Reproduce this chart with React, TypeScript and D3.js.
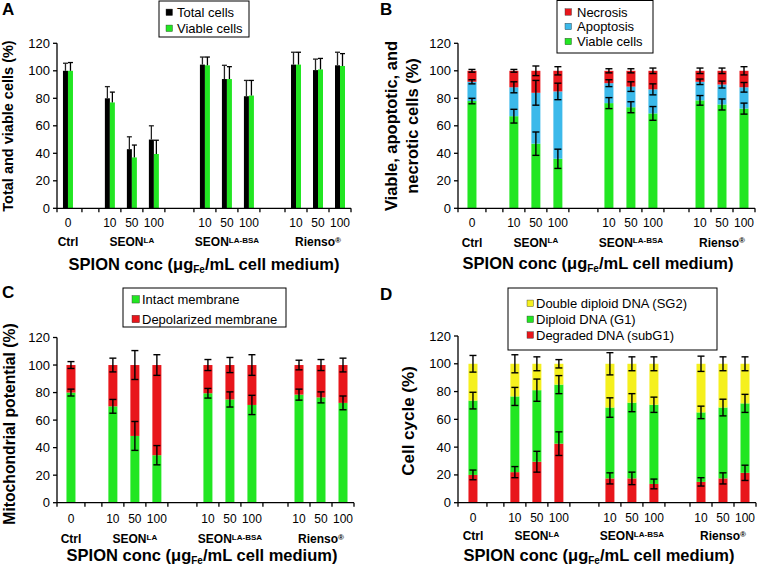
import React from 'react';
import * as d3 from 'd3';

const FONT = 'Liberation Sans, Arial, Helvetica, sans-serif';

// ---------- categories ----------
const groups = [
  { name: 'Ctrl', sup: '', concs: ['0'] },
  { name: 'SEON', sup: 'LA', concs: ['10', '50', '100'] },
  { name: 'SEON', sup: 'LA-BSA', concs: ['10', '50', '100'] },
  { name: 'Rienso', sup: '®', concs: ['10', '50', '100'] },
];
const yTicks = [0, 20, 40, 60, 80, 100, 120];

// ---------- Panel A ----------
const totalCells = [100, 80, 43, 50, 104.5, 94, 81.5, 104.5, 100.5, 104];
const totalCellsErr = [5.5, 8.5, 9, 10, 5.5, 10, 11.5, 9, 8, 9.5];
const viableCellsA = [100, 77, 37, 39.5, 104, 94, 82, 104.5, 101, 103.5];
const viableCellsAErr = [6, 7.5, 9, 10, 6, 9, 11, 9, 8, 9];

// ---------- Panel B (stack bottom -> top) ----------
const viableB = [78, 67, 47, 36, 76.5, 73.5, 69, 78.5, 75.5, 72.5];
const viableBErr = [2, 5, 8.5, 7, 4, 4, 5, 3.5, 4, 4];
const apoptosisB = [14, 21, 37, 49, 14.5, 15, 17.5, 13.5, 14.5, 15.5];
const apoptosisBErr = [1.5, 4, 9, 6, 2.5, 3.5, 4, 2, 2.5, 3.5];
const necrosisB = [8, 12, 16, 15, 9, 11.5, 13.5, 8, 10, 12];
const necrosisBErr = [1, 1, 3.5, 3, 1.5, 1.5, 2, 2, 2, 3];

// ---------- Panel C ----------
const intactC = [80, 70, 48.5, 34.5, 79.5, 75, 71, 78.5, 76.5, 72.5];
const intactCErr = [2.5, 5, 10.5, 7, 3.5, 5.5, 7, 4, 4, 5];
const depolC = [20, 30, 51.5, 65.5, 20.5, 25, 29, 21.5, 23.5, 27.5];
const depolCErr = [2.5, 5, 10.5, 7.5, 4, 5.5, 7.5, 3.5, 4, 5];

// ---------- Panel D ----------
const subG1 = [20, 22, 29.5, 42.5, 17.5, 17.5, 13.5, 15, 17.5, 21.5];
const subG1Err = [3.5, 4, 7.5, 8.5, 4, 4.5, 3.5, 3, 4, 5.5];
const g1 = [53.5, 54.5, 51.5, 42.5, 51, 54.5, 57, 50, 51, 50];
const g1Err = [6, 6.5, 8, 6.5, 7, 6.5, 5.5, 4.5, 6, 6.5];
const sg2 = [26.5, 23.5, 19, 15, 31.5, 28, 29.5, 35, 31.5, 28.5];
const sg2Err = [6, 6.5, 5, 3, 8, 5, 5, 5.5, 5, 5];

// ---------- colours ----------
const GREEN = '#22e622';
const RED = '#e8161b';
const BLUE = '#3cb9ea';
const YELLOW = '#f5f01e';
const BLACK = '#000000';

// ---------- layout of slots ----------
const CTRL_UNITS = 1.27;
const GAP_UNITS = [0.77, 1.32, 1.14];
const AXIS_W = 297;

type Slot = { start: number; end: number; gi: number; conc?: string; bar: boolean };
function buildSlots() {
  const slots: Slot[] = [];
  let u = 0;
  groups.forEach((g, gi) => {
    if (gi > 0) {
      slots.push({ start: u, end: u + GAP_UNITS[gi - 1], gi, bar: false });
      u += GAP_UNITS[gi - 1];
    }
    g.concs.forEach((c) => {
      const w = gi === 0 ? CTRL_UNITS : 1;
      slots.push({ start: u, end: u + w, gi, conc: c, bar: true });
      u += w;
    });
  });
  return { slots, total: u };
}
const { slots, total: TOTAL_UNITS } = buildSlots();
const barSlots = slots.filter((s) => s.bar);

type PanelGeom = { axisX: number; xStart: number; yTop: number; yBottom: number };

function Axes({ g, x, y, tickY, groupY, titleY, titleX }: any) {
  const end = x(TOTAL_UNITS);
  return (
    <g fontFamily={FONT}>
      <line x1={g.axisX} x2={g.axisX} y1={g.yBottom + 4} y2={y(120)} stroke="#000" strokeWidth={1.3} />
      <line x1={g.axisX} x2={end} y1={g.yBottom} y2={g.yBottom} stroke="#000" strokeWidth={1.3} />
      {yTicks.map((t) => (
        <g key={t}>
          <line x1={g.axisX - 4} x2={g.axisX} y1={y(t)} y2={y(t)} stroke="#000" strokeWidth={1.3} />
          <text x={g.axisX - 7} y={y(t)} dy="0.35em" textAnchor="end" fontSize={13}>{t}</text>
        </g>
      ))}
      {slots.map((s, i) => (
        <line key={i} x1={x(s.end)} x2={x(s.end)} y1={g.yBottom} y2={g.yBottom + 4} stroke="#000" strokeWidth={1.3} />
      ))}
      {barSlots.map((s, i) => (
        <text key={i} x={x((s.start + s.end) / 2)} y={tickY} textAnchor="middle" fontSize={12}>{s.conc}</text>
      ))}
      {groups.map((gr, gi) => {
        const gs = barSlots.filter((s) => s.gi === gi);
        const cx = (x(gs[0].start) + x(gs[gs.length - 1].end)) / 2;
        return (
          <text key={gi} x={cx} y={groupY} textAnchor="middle" fontSize={12} fontWeight="bold">
            <tspan>{gr.name}</tspan>
            {gr.sup ? <tspan dy={-3.5} fontSize={8}>{gr.sup}</tspan> : null}
          </text>
        );
      })}
      <text x={titleX} y={titleY} textAnchor="middle" fontSize={16.5} fontWeight="bold">
        <tspan>SPION conc (μg</tspan>
        <tspan dy={3} fontSize={10}>Fe</tspan>
        <tspan dy={-3}>/mL cell medium)</tspan>
      </text>
    </g>
  );
}

function Legend({ x, y, w, h, items, sx, tx, rows, sw }: any) {
  return (
    <g fontFamily={FONT}>
      <rect x={x} y={y} width={w} height={h} fill="#fff" stroke="#000" strokeWidth={1} />
      {items.map((it: any, i: number) => (
        <g key={i}>
          <rect x={sx} y={rows[i] - sw / 2} width={sw} height={sw} fill={it.color} stroke="#333" strokeWidth={0.4} />
          <text x={tx} y={rows[i]} dy="0.36em" fontSize={13}>{it.label}</text>
        </g>
      ))}
    </g>
  );
}

function StackPanel({ g, series, tickY, groupY, titleY, titleX }: any) {
  const x = d3.scaleLinear().domain([0, TOTAL_UNITS]).range([g.xStart, g.xStart + AXIS_W]);
  const y = d3.scaleLinear().domain([0, 120]).range([g.yBottom, g.yTop]);
  const bw = 9;
  return (
    <g>
      {barSlots.map((s, i) => {
        const cx = x((s.start + s.end) / 2);
        let cum = 0;
        const rects: any[] = [];
        const errs: any[] = [];
        series.forEach((se: any, k: number) => {
          const v = se.values[i];
          const top = cum + v;
          rects.push(<rect key={'r' + k} x={cx - bw / 2} y={y(top)} width={bw} height={y(cum) - y(top)} fill={se.color} />);
          const e = se.err[i];
          errs.push(
            <g key={'e' + k} stroke="#000" strokeWidth={1.4}>
              <line x1={cx} x2={cx} y1={y(top - e)} y2={y(top + e)} />
              <line x1={cx - 3.5} x2={cx + 3.5} y1={y(top + e)} y2={y(top + e)} />
              <line x1={cx - 3.5} x2={cx + 3.5} y1={y(top - e)} y2={y(top - e)} />
            </g>
          );
          cum = top;
        });
        return <g key={i}>{rects}{errs}</g>;
      })}
      <Axes g={g} x={x} y={y} tickY={tickY} groupY={groupY} titleY={titleY} titleX={titleX} />
    </g>
  );
}

function PanelA({ g }: { g: PanelGeom }) {
  const x = d3.scaleLinear().domain([0, TOTAL_UNITS]).range([g.xStart, g.xStart + AXIS_W]);
  const y = d3.scaleLinear().domain([0, 120]).range([g.yBottom, g.yTop]);
  const bw = 5;
  return (
    <g>
      {barSlots.map((s, i) => {
        const cx = x((s.start + s.end) / 2);
        const bars = [
          { v: totalCells[i], e: totalCellsErr[i], c: BLACK, x0: cx - bw },
          { v: viableCellsA[i], e: viableCellsAErr[i], c: GREEN, x0: cx },
        ];
        return (
          <g key={i}>
            {bars.map((b, k) => (
              <g key={k}>
                <rect x={b.x0} y={y(b.v)} width={bw} height={y(0) - y(b.v)} fill={b.c} />
                <g stroke={k === 0 ? '#222' : '#000'} strokeWidth={1.3}>
                  <line x1={b.x0 + bw / 2} x2={b.x0 + bw / 2} y1={y(b.v)} y2={y(b.v + b.e)} />
                  <line x1={b.x0 + bw / 2 - 2.5} x2={b.x0 + bw / 2 + 2.5} y1={y(b.v + b.e)} y2={y(b.v + b.e)} />
                </g>
              </g>
            ))}
          </g>
        );
      })}
      <Axes g={g} x={x} y={y} tickY={226.5} groupY={246} titleY={270} titleX={204} />
    </g>
  );
}

export default function App() {
  const gA: PanelGeom = { axisX: 57, xStart: 54, yTop: 43.3, yBottom: 208.3 };
  const gB: PanelGeom = { axisX: 458, xStart: 458, yTop: 43.3, yBottom: 208.3 };
  const gC: PanelGeom = { axisX: 57, xStart: 57, yTop: 337.5, yBottom: 502.7 };
  const gD: PanelGeom = { axisX: 458, xStart: 459, yTop: 336, yBottom: 502.7 };
  return (
    <svg width={759} height={567} style={{ position: 'absolute', left: 0, top: 0, display: 'block', background: '#fff' }} fontFamily={FONT}>
      <rect x={0} y={0} width={759} height={567} fill="#fff" />
      {/* panel letters */}
      <text x={2} y={15} fontSize={17} fontWeight="bold">A</text>
      <text x={380} y={15} fontSize={17} fontWeight="bold">B</text>
      <text x={2} y={298} fontSize={17} fontWeight="bold">C</text>
      <text x={380} y={300} fontSize={17} fontWeight="bold">D</text>

      {/* Panel A */}
      <PanelA g={gA} />
      <Legend x={159} y={1} w={90} h={36} sx={166} tx={177} sw={6.5} rows={[12.3, 28.3]}
        items={[{ label: 'Total cells', color: BLACK }, { label: 'Viable cells', color: GREEN }]} />
      <text transform="translate(13,126) rotate(-90)" textAnchor="middle" fontSize={14.5} fontWeight="bold">Total and viable cells (%)</text>

      {/* Panel B */}
      <StackPanel g={gB} tickY={226.7} groupY={246.5} titleY={268.5} titleX={598}
        series={[
          { values: viableB, err: viableBErr, color: GREEN },
          { values: apoptosisB, err: apoptosisBErr, color: BLUE },
          { values: necrosisB, err: necrosisBErr, color: RED },
        ]} />
      <Legend x={557} y={0.5} w={96} h={52.5} sx={565} tx={577} sw={6.5} rows={[12, 26.5, 41.5]}
        items={[{ label: 'Necrosis', color: RED }, { label: 'Apoptosis', color: BLUE }, { label: 'Viable cells', color: GREEN }]} />
      <text transform="translate(397,126) rotate(-90)" textAnchor="middle" fontSize={16.5} fontWeight="bold">Viable, apoptotic, and</text>
      <text transform="translate(418,126) rotate(-90)" textAnchor="middle" fontSize={16.5} fontWeight="bold">necrotic cells (%)</text>

      {/* Panel C */}
      <StackPanel g={gC} tickY={523.3} groupY={543} titleY={561} titleX={202}
        series={[
          { values: intactC, err: intactCErr, color: GREEN },
          { values: depolC, err: depolCErr, color: RED },
        ]} />
      <Legend x={123} y={288} w={163} h={39} sx={132} tx={142} sw={7.5} rows={[299.3, 319]}
        items={[{ label: 'Intact membrane', color: GREEN }, { label: 'Depolarized membrane', color: RED }]} />
      <text transform="translate(14.5,424) rotate(-90)" textAnchor="middle" fontSize={15.7} fontWeight="bold">Mitochondrial potential (%)</text>

      {/* Panel D */}
      <StackPanel g={gD} tickY={521.7} groupY={540} titleY={560.5} titleX={599}
        series={[
          { values: subG1, err: subG1Err, color: RED },
          { values: g1, err: g1Err, color: GREEN },
          { values: sg2, err: sg2Err, color: YELLOW },
        ]} />
      <Legend x={508} y={288} w={209} h={62} sx={527} tx={536} sw={6.5} rows={[303.3, 319.3, 335]}
        items={[{ label: 'Double diploid DNA (SG2)', color: YELLOW }, { label: 'Diploid DNA (G1)', color: GREEN }, { label: 'Degraded DNA (subG1)', color: RED }]} />
      <text transform="translate(414,421) rotate(-90)" textAnchor="middle" fontSize={17} fontWeight="bold">Cell cycle (%)</text>
    </svg>
  );
}
